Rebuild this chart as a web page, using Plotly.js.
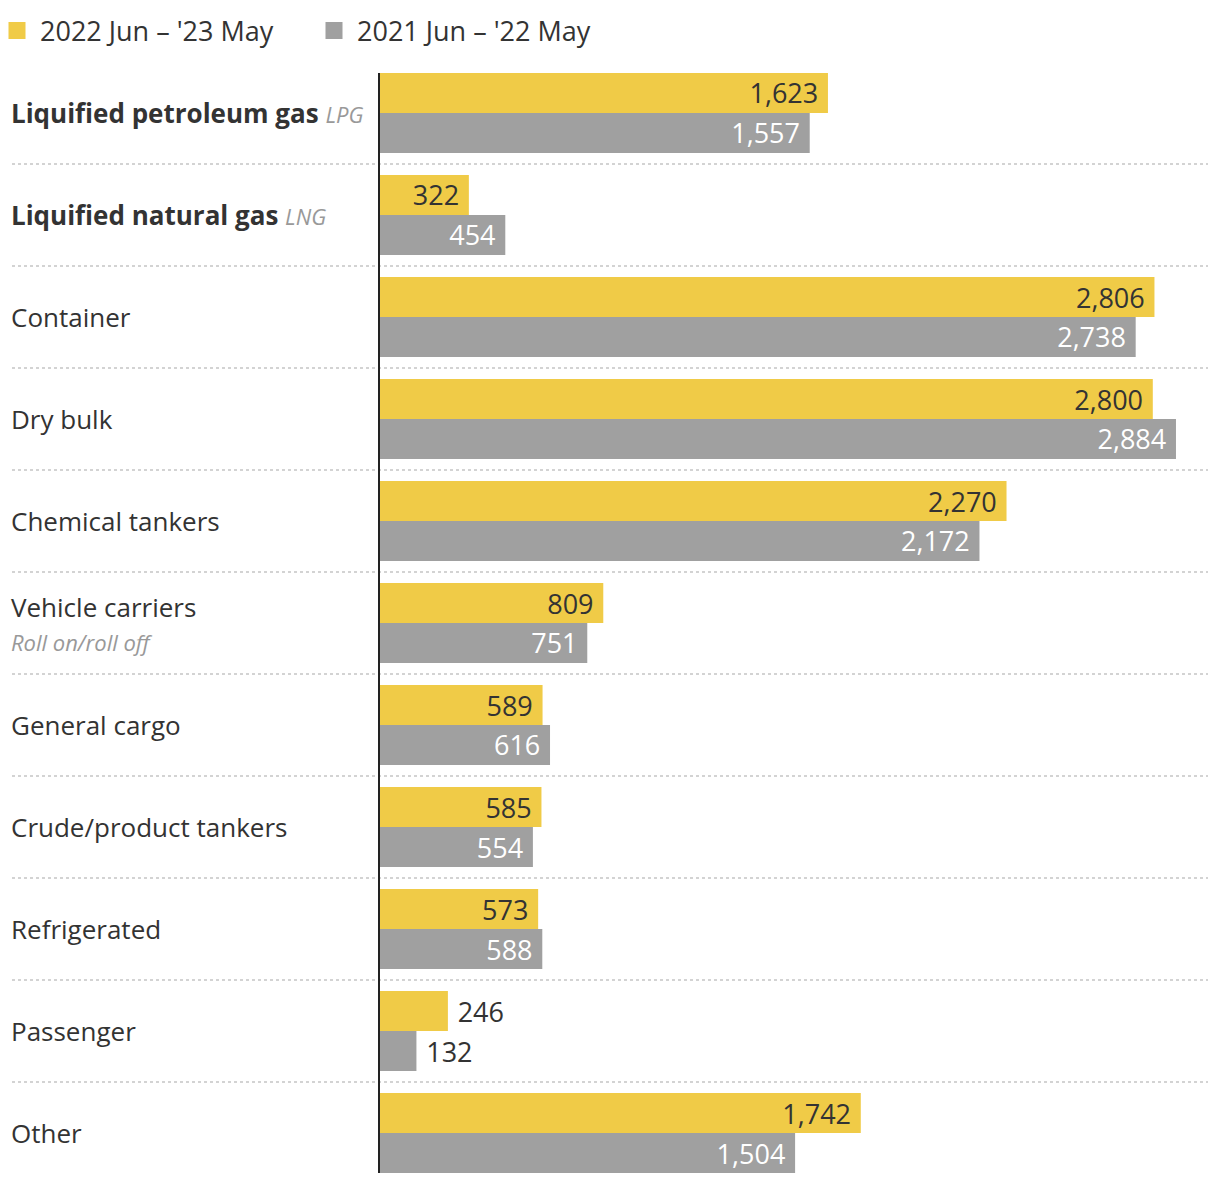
<!DOCTYPE html>
<html><head><meta charset="utf-8">
<script src="https://cdn.plot.ly/plotly-3.0.1.min.js"></script>
<style>body{margin:0;background:#fff}#chart{width:1220px;height:1186px}</style>
</head><body><div id="chart"></div>
<script>
const categories = ["Liquified petroleum gas","Liquified natural gas","Container","Dry bulk","Chemical tankers","Vehicle carriers","General cargo","Crude/product tankers","Refrigerated","Passenger","Other"];
const labelNotes = ["LPG","LNG","","","","Roll on/roll off","","","","",""];
const boldLabels = [true,true,false,false,false,false,false,false,false,false,false];
const series2223 = [1623,322,2806,2800,2270,809,589,585,573,246,1742];
const series2122 = [1557,454,2738,2884,2172,751,616,554,588,132,1504];
const seriesNames = ["2022 Jun \u2013 '23 May","2021 Jun \u2013 '22 May"];

const FONT = "Open Sans, sans-serif";
const YEL = "#F0CB47", GRY = "#A0A0A0", DARK = "#333333";
const VSIZE = 27, LSIZE = 26;
const fmt = v => v.toLocaleString("en-US");
const pos = v => v < 300 ? "outside" : "inside";
const txt = v => v < 300 ? "\u2005" + fmt(v) : fmt(v) + "\u2005";

function trace(vals, name, color, inColor){
  return {
    type:"bar", orientation:"h", name:name,
    y: categories.map((c,i)=>i), x: vals,
    marker:{color:color, line:{width:0}},
    text: vals.map(txt), textposition: vals.map(pos), texttemplate:"%{text}",
    insidetextanchor:"end",
    insidetextfont:{family:FONT,size:VSIZE,color:inColor},
    outsidetextfont:{family:FONT,size:VSIZE,color:DARK},
    textfont:{family:FONT,size:VSIZE},
    constraintext:"none", cliponaxis:false, hoverinfo:"skip"
  };
}
const data = [trace(series2223, seriesNames[0], YEL, DARK), trace(series2122, seriesNames[1], GRY, "#ffffff")];

const annotations = categories.map((c,i)=>{
  let t = boldLabels[i] ? "<b>"+c+"</b>" : c;
  if (labelNotes[i]) {
    if (boldLabels[i]) t += " <i><span style='color:#999;font-size:22px'>"+labelNotes[i]+"</span></i>";
    else t += "<br><i><span style='color:#999;font-size:22px'>"+labelNotes[i]+"</span></i>";
  }
  return {xref:"paper", yref:"y", x:-371/828, y:i, xanchor:"left", yanchor:"middle", align:"left",
          text:t, showarrow:false, font:{family:FONT,size:LSIZE,color:DARK}};
});
const shapes = [];
for (let i=0;i<categories.length-1;i++){
  shapes.push({type:"line", xref:"paper", yref:"y", x0:-368/828, x1:1, y0:i+0.5, y1:i+0.5,
               line:{color:"#d3d3d3", width:2, dash:"dot"}, layer:"below"});
}

const layout = {
  width:1220, height:1186,
  margin:{l:380, r:12, t:73, b:13, pad:0},
  paper_bgcolor:"#fff", plot_bgcolor:"#fff",
  barmode:"group", bargap:0.216, bargroupgap:0,
  font:{family:FONT, size:LSIZE, color:DARK},
  showlegend:true,
  legend:{orientation:"h", xref:"container", yref:"container", x:0, y:1-31/1186, xanchor:"left", yanchor:"middle",
          font:{family:FONT,size:VSIZE,color:DARK}, itemclick:false, traceorder:"normal", itemwidth:30,
          entrywidth:272, entrywidthmode:"pixels"},
  xaxis:{range:[0,3000], showgrid:false, zeroline:false, showticklabels:false, ticks:"", fixedrange:true},
  yaxis:{type:"linear", range:[10.392,-0.392], showgrid:false, zeroline:false, showticklabels:false, ticks:"",
         showline:true, linecolor:"#222", linewidth:2, fixedrange:true},
  annotations:annotations, shapes:shapes
};
Plotly.newPlot("chart", data, layout, {displayModeBar:false, staticPlot:true}).then(()=>{
  document.querySelectorAll(".legendpoints path").forEach(p=>p.setAttribute("d","M5.5,8.5H-11.5V-8.5H5.5Z"));
});
</script></body></html>
